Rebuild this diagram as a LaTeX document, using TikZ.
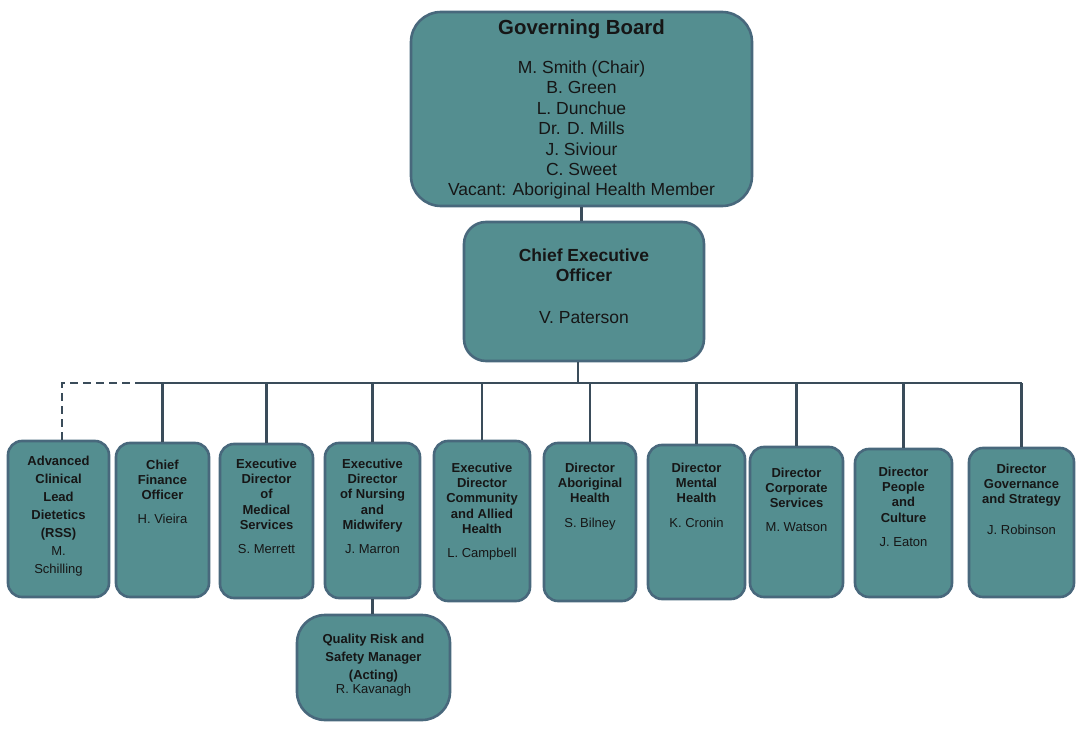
\documentclass[tikz,border=0pt]{standalone}
\usepackage{fontspec}
\setmainfont{Liberation Sans}
\usetikzlibrary{positioning}
\definecolor{boxfill}{RGB}{84,142,144}
\definecolor{boxedge}{RGB}{72,104,124}
\definecolor{linkcol}{RGB}{58,76,90}
\definecolor{inkcol}{RGB}{22,22,22}

\begin{document}
\begin{tikzpicture}[x=1pt, y=-1pt,
        orgbox/.style={draw=boxedge, fill=boxfill, line width=2.6pt, rounded corners=14pt, inner sep=0pt},
        orgtext/.style={align=center, inner sep=0pt, text=inkcol, font=\fontsize{13}{15.3}\selectfont},
        link/.style={draw=linkcol, line width=2.2pt}]
    \useasboundingbox (0,0) rectangle (1082,733);

    % top of the chart
    \node[orgbox, rounded corners=30pt, minimum width=341pt, minimum height=194pt] (gb) at (581.5,109) {};
    \node[orgtext, font=\fontsize{17.5}{20.4}\selectfont, below=8.5pt of gb.north] (gb-t)
        {{\fontsize{20.4}{24}\selectfont\bfseries Governing Board}\\[19pt]
         M. Smith (Chair)\\ B. Green\\ L. Dunchue\\ Dr. D. Mills\\ J. Siviour\\ C. Sweet\\
         Vacant: Aboriginal Health Member};

    \node[orgbox, rounded corners=22pt, minimum width=240pt, minimum height=139pt] (ceo) at (584,291.5) {};
    \node[orgtext, font=\fontsize{17.5}{20}\selectfont, below=28pt of ceo.north] (ceo-t)
        {\textbf{Chief Executive}\\ \textbf{Officer}\\[21.7pt] V. Paterson};

    % directors
    \node[orgbox, minimum width=101pt, minimum height=156pt] (adv) at (58.5,519) {};
    \node[orgbox, minimum width=93pt, minimum height=154pt] (cfo) at (162.5,520) {};
    \node[orgbox, minimum width=93pt, minimum height=154pt] (edms) at (266.5,521) {};
    \node[orgbox, minimum width=95pt, minimum height=155pt] (edon) at (372.5,520.5) {};
    \node[orgbox, minimum width=96pt, minimum height=160pt] (edcah) at (482,521) {};
    \node[orgbox, minimum width=92pt, minimum height=158pt] (dah) at (590,522) {};
    \node[orgbox, minimum width=97pt, minimum height=154pt] (dmh) at (696.5,522) {};
    \node[orgbox, minimum width=93pt, minimum height=150pt] (dcs) at (796.5,522) {};
    \node[orgbox, minimum width=97pt, minimum height=148pt] (dpc) at (903.5,523) {};
    \node[orgbox, minimum width=105pt, minimum height=149pt] (dgs) at (1021.5,522.5) {};
    \node[orgbox, rounded corners=28pt, minimum width=153pt, minimum height=105pt] (qrsm) at (373.5,667.5) {};

    \node[orgtext, font=\fontsize{13}{18}\selectfont, below=15.7pt of adv.north] (adv-t)
        {\textbf{Advanced}\\ \textbf{Clinical}\\ \textbf{Lead}\\ \textbf{Dietetics}\\ \textbf{(RSS)}\\ M.\\ Schilling};
    \node[orgtext, below=17.7pt of cfo.north] (cfo-t)
        {\textbf{Chief}\\ \textbf{Finance}\\ \textbf{Officer}\\[9pt] H. Vieira};
    \node[orgtext, below=16pt of edms.north] (edms-t)
        {\textbf{Executive}\\ \textbf{Director}\\ \textbf{of}\\ \textbf{Medical}\\ \textbf{Services}\\[9pt] S. Merrett};
    \node[orgtext, below=17pt of edon.north] (edon-t)
        {\textbf{Executive}\\ \textbf{Director}\\ \textbf{of Nursing}\\ \textbf{and}\\ \textbf{Midwifery}\\[9pt] J. Marron};
    \node[orgtext, below=23pt of edcah.north] (edcah-t)
        {\textbf{Executive}\\ \textbf{Director}\\ \textbf{Community}\\ \textbf{and Allied}\\ \textbf{Health}\\[8.5pt] L. Campbell};
    \node[orgtext, below=21pt of dah.north] (dah-t)
        {\textbf{Director}\\ \textbf{Aboriginal}\\ \textbf{Health}\\[9.5pt] S. Bilney};
    \node[orgtext, below=19pt of dmh.north] (dmh-t)
        {\textbf{Director}\\ \textbf{Mental}\\ \textbf{Health}\\[9.5pt] K. Cronin};
    \node[orgtext, below=22pt of dcs.north] (dcs-t)
        {\textbf{Director}\\ \textbf{Corporate}\\ \textbf{Services}\\[8.5pt] M. Watson};
    \node[orgtext, below=19pt of dpc.north] (dpc-t)
        {\textbf{Director}\\ \textbf{People}\\ \textbf{and}\\ \textbf{Culture}\\[8.5pt] J. Eaton};
    \node[orgtext, below=17pt of dgs.north] (dgs-t)
        {\textbf{Director}\\ \textbf{Governance}\\ \textbf{and Strategy}\\[15pt] J. Robinson};
    \node[orgtext, font=\fontsize{13}{18}\selectfont, below=20pt of qrsm.north] (qrsm-t)
        {\textbf{Quality Risk and}\\ \textbf{Safety Manager}\\ \textbf{(Acting)}\\[-4pt] R. Kavanagh};

    % connectors
    \coordinate (bus) at (0,383);
    \coordinate (busL) at (143,383);
    \coordinate (ceo-out) at ([xshift=-6pt]ceo.south);
    \coordinate (adv-in) at ([xshift=3.5pt]adv.north);
    \draw[link] (gb.south) -- (gb.south |- ceo.north);
    \draw[link] (ceo-out) -- (ceo-out |- bus);
    \draw[link] (busL) -- (dgs.north |- bus);
    \draw[link, dash pattern=on 8pt off 5pt] (adv-in) -- (adv-in |- bus) -- (busL);
    \foreach \n in {cfo,edms,edon,edcah,dah,dmh,dcs,dpc,dgs}
    {
        \draw[link] (\n.north) -- (\n.north |- bus);
    }
    \draw[link] (edon.south) -- (edon.south |- qrsm.north);
\end{tikzpicture}
\end{document}
